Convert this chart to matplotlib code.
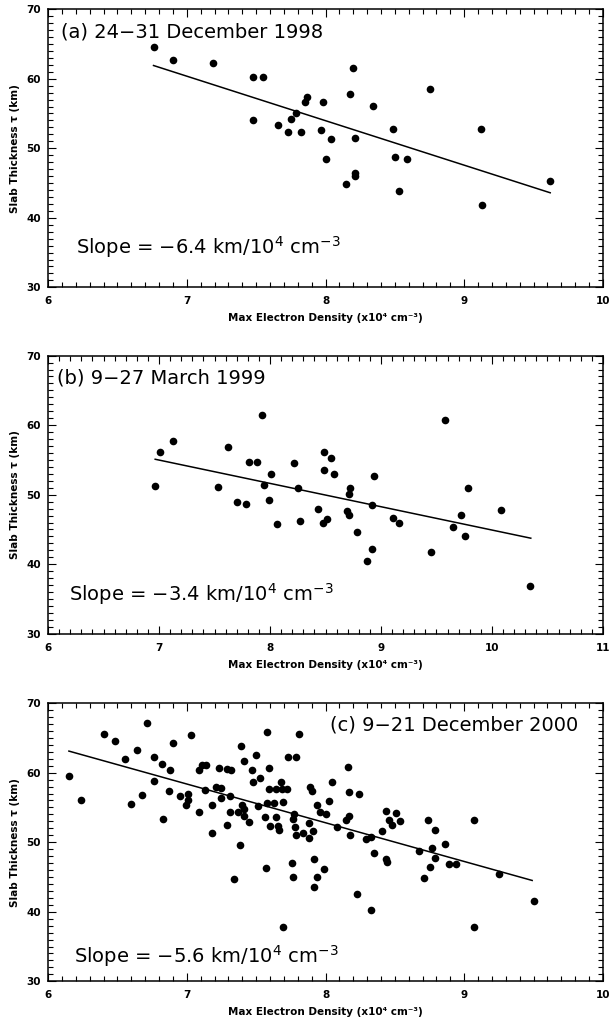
import matplotlib.pyplot as plt
from matplotlib.ticker import MultipleLocator

# (a) 24-31 December 1998
dec98_density = [6.76, 6.90, 7.19, 7.48, 7.55, 7.48, 7.66, 7.73, 7.75, 7.79, 7.82,
                 7.85, 7.87, 7.98, 7.97, 8.04, 8.00, 8.20, 8.18, 8.21, 8.21, 8.21,
                 8.15, 8.34, 8.49, 8.50, 8.59, 8.53, 8.75, 9.12, 9.13, 9.62]
dec98_thickness = [64.5, 62.7, 62.2, 60.3, 60.3, 54.0, 53.4, 52.3, 54.2, 55.0, 52.3,
                   56.6, 57.4, 56.7, 52.6, 51.4, 48.5, 61.5, 57.8, 51.5, 46.5, 46.0,
                   44.8, 56.1, 52.8, 48.75, 48.5, 43.8, 58.45, 52.8, 41.9, 45.35]
dec98_fit_x = [6.76, 9.62]
dec98_fit_y = [61.9, 43.6]

# (b) 9-27 March 1999
mar99_density = [6.965, 7.01, 7.13, 7.53, 7.62, 7.70, 7.78, 7.81, 7.88, 7.93, 7.945,
                 8.01, 7.995, 8.06, 8.22, 8.25, 8.27, 8.43, 8.486, 8.55, 8.49, 8.58,
                 8.48, 8.51, 8.72, 8.71, 8.69, 8.71, 8.78, 8.94, 8.92, 8.92, 8.87,
                 9.11, 9.16, 9.45, 9.58, 9.65, 9.72, 9.76, 9.78, 10.08, 10.34]
mar99_thickness = [51.2, 56.1, 57.7, 51.1, 56.8, 48.95, 48.6, 54.75, 54.75, 61.5, 51.35,
                   53.0, 49.2, 45.8, 54.6, 50.96, 46.2, 47.95, 56.1, 55.3, 53.5, 53.0,
                   45.9, 46.45, 51.0, 50.05, 47.6, 47.1, 44.7, 52.7, 48.55, 42.2, 40.5,
                   46.65, 45.97, 41.75, 60.8, 45.3, 47.1, 44.1, 51.0, 47.8, 36.85]
mar99_fit_x = [6.965, 10.35]
mar99_fit_y = [55.1, 43.75]

# (c) 9-21 December 2000
dec00_density = [6.148, 6.235, 6.40, 6.48, 6.555, 6.64, 6.60, 6.68, 6.716, 6.76, 6.767,
                 6.82, 6.827, 6.87, 6.88, 6.90, 6.95, 6.995, 7.01, 7.01, 7.03, 7.09,
                 7.09, 7.11, 7.14, 7.13, 7.18, 7.18, 7.21, 7.23, 7.245, 7.25, 7.29,
                 7.29, 7.32, 7.31, 7.31, 7.34, 7.38, 7.39, 7.37, 7.40, 7.41, 7.41,
                 7.41, 7.45, 7.47, 7.48, 7.50, 7.51, 7.53, 7.565, 7.57, 7.58, 7.59,
                 7.58, 7.59, 7.60, 7.626, 7.645, 7.645, 7.66, 7.667, 7.677, 7.686, 7.69,
                 7.69, 7.72, 7.73, 7.756, 7.763, 7.765, 7.775, 7.777, 7.79, 7.79, 7.81,
                 7.84, 7.88, 7.88, 7.885, 7.90, 7.91, 7.92, 7.92, 7.94, 7.94, 7.96,
                 7.987, 8.00, 8.025, 8.045, 8.08, 8.165, 8.17, 8.17, 8.15, 8.18, 8.244,
                 8.23, 8.29, 8.33, 8.33, 8.35, 8.41, 8.435, 8.46, 8.48, 8.51, 8.54,
                 8.435, 8.44, 8.675, 8.74, 8.77, 8.79, 8.79, 8.75, 8.71, 8.86, 8.89,
                 8.94, 9.07, 9.07, 9.25, 9.50]
dec00_thickness = [59.54, 56.0, 65.6, 64.5, 61.9, 63.2, 55.5, 56.8, 67.2, 62.2, 58.8,
                   61.3, 53.3, 57.4, 60.4, 64.2, 56.6, 55.4, 56.9, 56.0, 65.35, 54.4,
                   60.4, 61.1, 61.1, 57.5, 51.3, 55.3, 57.9, 60.7, 57.8, 56.3, 52.5,
                   60.5, 60.4, 56.6, 54.4, 44.7, 49.6, 63.8, 54.3, 55.4, 61.7, 54.8,
                   53.8, 52.9, 60.4, 58.6, 62.6, 55.2, 59.2, 53.6, 46.35, 65.8, 60.6,
                   55.6, 57.6, 52.3, 55.6, 53.6, 57.6, 52.4, 51.7, 58.7, 57.6, 55.8,
                   37.8, 57.7, 62.2, 47.0, 45.0, 53.3, 54.1, 52.2, 51.1, 62.3, 65.6,
                   51.3, 52.7, 50.6, 57.9, 57.3, 51.6, 47.6, 43.6, 45.0, 55.4, 54.4,
                   46.1, 54.1, 55.9, 58.6, 52.2, 60.8, 57.2, 53.7, 53.2, 51.05, 56.95,
                   42.6, 50.5, 50.7, 40.2, 48.4, 51.6, 54.5, 53.2, 52.5, 54.2, 53.1,
                   47.55, 47.2, 48.7, 53.2, 49.1, 47.7, 51.8, 46.4, 44.9, 49.7, 46.8,
                   46.8, 53.2, 37.8, 45.4, 41.6]
dec00_fit_x = [6.15, 9.49]
dec00_fit_y = [63.1, 44.5]

plt.rcParams['font.family'] = 'DejaVu Sans'
plt.rcParams['mathtext.default'] = 'regular'


def panel(ax, x, y, fit_x, fit_y, xmax, title, title_pos, title_ha, slope, slope_pos):
    ax.plot(x, y, 'o', color='black', markersize=5.5, markeredgewidth=0)
    ax.plot(fit_x, fit_y, color='black', linewidth=1.1)
    ax.set_xlim(6, xmax)
    ax.set_ylim(30, 70)
    ax.xaxis.set_major_locator(MultipleLocator(1))
    ax.xaxis.set_minor_locator(MultipleLocator(0.1))
    ax.yaxis.set_major_locator(MultipleLocator(10))
    ax.yaxis.set_minor_locator(MultipleLocator(1))
    ax.tick_params(which='both', direction='in', top=True, right=True, width=0.8)
    ax.tick_params(which='major', length=6, labelsize=7.5)
    ax.tick_params(axis='x', which='major', pad=6.5)
    ax.tick_params(axis='y', which='major', pad=5)
    ax.tick_params(which='minor', length=3.5)
    for lab in ax.get_xticklabels() + ax.get_yticklabels():
        lab.set_fontweight('bold')
    for s in ax.spines.values():
        s.set_linewidth(1.1)
    ax.set_xlabel('Max Electron Density (x10\u2074 cm\u207b\u00b3)', fontsize=7.5,
                  fontweight='bold', labelpad=5)
    ax.set_ylabel('Slab Thickness \u03c4 (km)', fontsize=7.5, fontweight='bold',
                  labelpad=5)
    ax.text(title_pos[0], title_pos[1], title, fontsize=14, ha=title_ha, va='center')
    ax.text(slope_pos[0], slope_pos[1],
            r'Slope = $-$' + slope + r' km/10$^4$ cm$^{-3}$', fontsize=14,
            ha='left', va='center')


if __name__ == "__main__":
    fig = plt.figure(figsize=(6.09, 10.19), dpi=100)
    ax_a = fig.add_axes([0.079, 0.718, 0.911, 0.273])
    ax_b = fig.add_axes([0.079, 0.378, 0.911, 0.273])
    ax_c = fig.add_axes([0.079, 0.037, 0.911, 0.273])

    panel(ax_a, dec98_density, dec98_thickness, dec98_fit_x, dec98_fit_y, 10,
          '(a) 24\u221231 December 1998', (6.09, 66.7), 'left', '6.4', (6.2, 35.8))
    panel(ax_b, mar99_density, mar99_thickness, mar99_fit_x, mar99_fit_y, 11,
          '(b) 9\u221227 March 1999', (6.08, 66.8), 'left', '3.4', (6.19, 35.75))
    panel(ax_c, dec00_density, dec00_thickness, dec00_fit_x, dec00_fit_y, 10,
          '(c) 9\u221221 December 2000', (9.82, 66.9), 'right', '5.6', (6.19, 33.7))

    fig.savefig('out.png', dpi=100)
